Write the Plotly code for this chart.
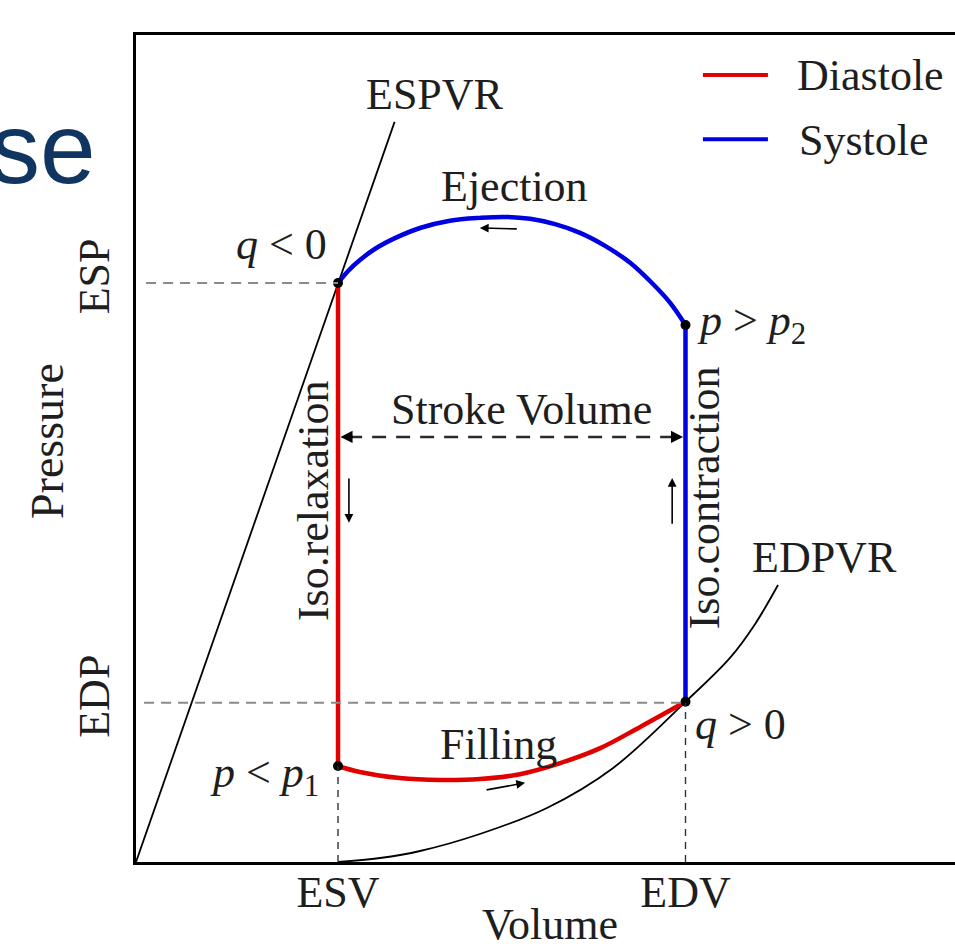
import plotly.graph_objects as go

# ---------------- data (arbitrary volume / pressure units) ----------------
esv, edv = 50, 136          # end-systolic / end-diastolic volume
esp, edp = 120, 33          # end-systolic / end-diastolic pressure
p1_level = 19.9             # pressure at end of iso-relaxation
p2_level = 111.3            # pressure at end of iso-contraction
sv_level = 88.1             # height of the stroke-volume arrow

espvr_v = [0, 64]
espvr_p = [0, 153.4]

edpvr_v = [50, 60.4, 70.3, 85.1, 101.7, 118.1, 136, 147.0, 153.2, 158.9]
edpvr_p = [0, 0.83, 2.28, 5.8, 11.2, 19.5, 33.2, 42.3, 49.3, 57.4]

ejection_v = [136, 132.2, 127.7, 122.3, 116.1, 109.9, 103.7, 97.5, 91.3, 85.2, 77.7, 70.3, 64.1, 59.2, 55.5, 52.5, 50]
ejection_p = [111.3, 115.9, 120.0, 124.2, 127.7, 130.4, 132.2, 133.3, 133.7, 133.5, 132.9, 131.4, 129.3, 127.1, 124.8, 122.5, 120]

relax_v = [50, 50]
relax_p = [120, 19.9]

filling_v = [50, 55.4, 65.3, 75.2, 85.1, 95.0, 105.0, 114.9, 124.8, 136]
filling_p = [19.9, 18.65, 17.4, 17.0, 17.2, 18.2, 20.5, 23.6, 28.0, 33.2]

contract_v = [136, 136]
contract_p = [33.2, 111.3]

corner_v = [50, 136, 50, 136]
corner_p = [120, 111.3, 19.9, 33.2]

x_tick_vals = [esv, edv]
x_tick_text = ["ESV", "EDV"]
y_tick_vals = [edp, esp]
y_tick_text = ["EDP", "ESP"]

# ---------------- styling ----------------
RED = "#e10000"
BLUE = "#0000e0"
TXT = "#1e1e1e"
SERIF = "Liberation Serif"
FS = 44

fig = go.Figure()

fig.add_trace(go.Scatter(x=espvr_v, y=espvr_p, mode="lines",
                         line=dict(color="black", width=1.8), showlegend=False, name="ESPVR"))
fig.add_trace(go.Scatter(x=edpvr_v, y=edpvr_p, mode="lines", line_shape="spline",
                         line=dict(color="black", width=1.8), showlegend=False, name="EDPVR"))

# reference dashed lines
fig.add_shape(type="line", x0=2.5, x1=esv, y0=esp, y1=esp,
              line=dict(color="#8a8a8a", width=2, dash="10px,7px"))
fig.add_shape(type="line", x0=2.0, x1=edv, y0=edp, y1=edp,
              line=dict(color="#8a8a8a", width=2, dash="10px,7px"))
fig.add_shape(type="line", x0=esv, x1=esv, y0=0, y1=p1_level,
              line=dict(color="#333333", width=1.4, dash="7px,6px"))
fig.add_shape(type="line", x0=edv, x1=edv, y0=0, y1=edp,
              line=dict(color="#333333", width=1.4, dash="7px,6px"))
fig.add_shape(type="line", x0=esv + 2.5, x1=edv - 2.5, y0=sv_level, y1=sv_level,
              line=dict(color="#2a2a2a", width=2.5, dash="14px,10px"))

# pressure-volume loop
fig.add_trace(go.Scatter(x=relax_v, y=relax_p, mode="lines",
                         line=dict(color=RED, width=4.5), name="Diastole", showlegend=False))
fig.add_trace(go.Scatter(x=filling_v, y=filling_p, mode="lines", line_shape="spline",
                         line=dict(color=RED, width=4.5), name="Diastole", showlegend=False))
fig.add_trace(go.Scatter(x=ejection_v, y=ejection_p, mode="lines", line_shape="spline",
                         line=dict(color=BLUE, width=4.5), name="Systole", showlegend=False))
fig.add_trace(go.Scatter(x=contract_v, y=contract_p, mode="lines",
                         line=dict(color=BLUE, width=4.5), name="Systole", showlegend=False))
fig.add_trace(go.Scatter(x=corner_v, y=corner_p, mode="markers",
                         marker=dict(color="black", size=10), showlegend=False))

# manual legend (long line samples)
fig.add_shape(type="line", x0=140.3, x1=156.4, y0=163.1, y1=163.1, line=dict(color=RED, width=4))
fig.add_shape(type="line", x0=140.3, x1=156.4, y0=149.8, y1=149.8, line=dict(color=BLUE, width=4))

ann = []
def label(x, y, text, xanchor="center", angle=0, size=FS):
    ann.append(dict(x=x, y=y, xref="x", yref="y", text=text, showarrow=False,
                    xanchor=xanchor, yanchor="middle", textangle=angle,
                    font=dict(family=SERIF, size=size, color=TXT)))

label(163.1, 163.1, "Diastole", xanchor="left")
label(163.6, 149.6, "Systole", xanchor="left")
label(74.0, 159.0, "ESPVR")
label(93.8, 140.0, "Ejection")
label(36.1, 127.9, "<i>q</i> &lt; 0")
label(138.4, 111.7, "<i>p</i> &gt; <i>p</i><sub>2</sub>", xanchor="left")
label(95.3, 93.7, "Stroke Volume")
label(43.8, 75.0, "Iso.relaxation", angle=-90)
label(140.6, 75.4, "Iso.contraction", angle=-90)
label(170.3, 63.2, "EDPVR")
label(89.6, 24.4, "Filling")
label(137.9, 28.4, "<i>q</i> &gt; 0", xanchor="left")
label(31.9, 18.0, "<i>p</i> &lt; <i>p</i><sub>1</sub>")

def arrow(hx, hy, tx, ty, w=1.6):
    ann.append(dict(x=hx, y=hy, ax=tx, ay=ty, xref="x", yref="y", axref="x", ayref="y",
                    text="", showarrow=True, arrowhead=2, arrowsize=1.1, arrowwidth=w,
                    arrowcolor="black", standoff=0, startstandoff=0))

arrow(85.1, 131.4, 94.6, 131.2)      # ejection
arrow(52.7, 70.3, 52.7, 79.8)        # iso-relaxation
arrow(132.7, 79.6, 132.7, 69.8)      # iso-contraction
arrow(96.3, 16.4, 86.4, 14.9)        # filling
arrow(esv + 0.6, sv_level, esv + 4.0, sv_level, w=2.2)   # stroke volume left head
arrow(edv - 0.6, sv_level, edv - 4.0, sv_level, w=2.2)   # stroke volume right head

# axis titles placed as annotations for exact position
ann.append(dict(x=(47 - 136) / 819, y=(862 - 441) / 827, xref="paper", yref="paper",
                text="Pressure", showarrow=False, xanchor="center", yanchor="middle",
                textangle=-90, font=dict(family=SERIF, size=46, color=TXT)))
ann.append(dict(x=(550 - 136) / 819, y=(862 - 924) / 827, xref="paper", yref="paper",
                text="Volume", showarrow=False, xanchor="center", yanchor="middle",
                font=dict(family=SERIF, size=FS, color=TXT)))

# cut-off slide title fragment
ann.append(dict(x=(98 - 136) / 819, y=(862 - 148) / 827, xref="paper", yref="paper",
                text="se", showarrow=False, xanchor="right", yanchor="middle",
                font=dict(family="Liberation Sans", size=100, color="#103560")))

fig.update_layout(
    width=955, height=946,
    margin=dict(l=136, r=0, t=35, b=84, autoexpand=False),
    paper_bgcolor="white", plot_bgcolor="white",
    annotations=ann, showlegend=False,
    xaxis=dict(range=[0, 202.7], showgrid=False, zeroline=False, automargin=False,
               showline=True, linecolor="black", linewidth=3, mirror=True,
               tickvals=x_tick_vals, ticktext=x_tick_text, ticks="",
               ticklabelstandoff=-11,
               tickfont=dict(family=SERIF, size=FS, color=TXT)),
    yaxis=dict(range=[0, 171.4], showgrid=False, zeroline=False, automargin=False,
               showline=True, linecolor="black", linewidth=3, mirror=False,
               tickvals=y_tick_vals, ticktext=y_tick_text, ticks="",
               tickangle=-90, ticklabelstandoff=6,
               tickfont=dict(family=SERIF, size=FS, color=TXT)),
)

fig.write_html("out.html")
